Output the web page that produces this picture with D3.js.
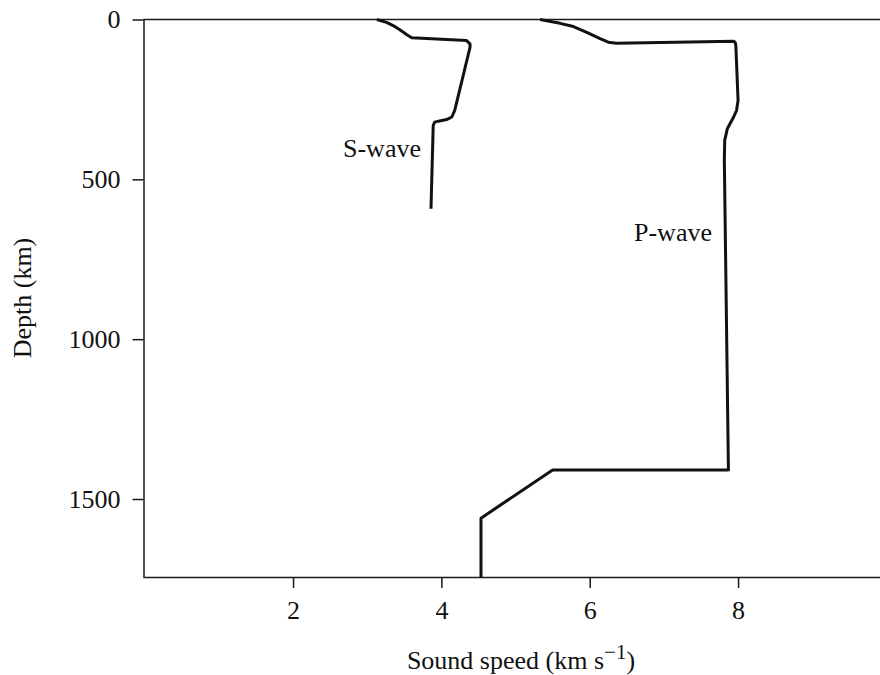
<!DOCTYPE html>
<html>
<head>
<meta charset="utf-8">
<script src="https://cdn.jsdelivr.net/npm/d3@7"></script>
<style>
  body { margin: 0; background: #fff; }
  svg { display: block; }
  .axis path, .axis line { stroke: #1a1a1a; stroke-width: 1.5px; }
  .wave { fill: none; stroke: #111; stroke-width: 3px; stroke-linejoin: round; }
</style>
</head>
<body>
<script>
// S-wave profile: speed (km/s) vs depth (km)
var sSpeed = [3.13, 3.26, 3.35, 3.44, 3.53, 3.60, 3.67, 4.34, 4.386, 4.386, 4.18, 4.14, 4.07, 3.96, 3.91, 3.89, 3.86];
var sDepth = [0, 9, 19, 32, 47, 57, 58, 66, 76, 87, 284, 305, 313, 318, 321, 331, 592];

// P-wave profile
var pSpeed = [5.33, 5.60, 5.78, 5.96, 6.14, 6.25, 6.36, 7.94, 7.96, 7.97, 8.00, 7.98, 7.94, 7.855, 7.82, 7.815, 7.87, 5.50, 4.534, 4.534];
var pDepth = [0, 12, 22, 40, 60, 71, 74, 68, 71, 81, 253, 284, 305, 342, 378, 441, 1409, 1409, 1560, 1744];

var xTicks = [2, 4, 6, 8];
var yTicks = [0, 500, 1000, 1500];

// curve labels: [text, speed, depth, anchor]
var labels = [
    ["S-wave", 3.725, 431, "end"],
    ["P-wave", 6.597, 694, "start"]
];

var FONT = "Liberation Serif, Tinos, DejaVu Serif, serif";
var FS = 26;

//---------setup plot-----------------------//
var W = 880, H = 675;

var x = d3.scaleLinear()
    .domain([0, 10])
    .range([144.7, 886.4]);

var y = d3.scaleLinear()
    .domain([0, 1744])
    .range([19.5, 577]);

var svg = d3.select("body").append("svg")
    .attr("width", W)
    .attr("height", H)
    .attr("font-family", FONT)
    .attr("font-size", FS);

// y-axis
svg.append("g")
    .attr("class", "axis")
    .attr("transform", "translate(143.5,0)")
    .call(d3.axisLeft(y).tickValues(yTicks).tickFormat(d3.format("d"))
        .tickSize(11).tickPadding(12).tickSizeOuter(0));

// x-axis
svg.append("g")
    .attr("class", "axis")
    .attr("transform", "translate(0," + y(1744) + ")")
    .call(d3.axisBottom(x).tickValues(xTicks).tickSize(11).tickPadding(13).tickSizeOuter(0));

// d3 axis sets its own font, put ours back
svg.selectAll(".axis")
    .attr("font-family", FONT)
    .attr("font-size", FS)
    .selectAll("text").attr("fill", "#111");

// top frame line
svg.append("line")
    .attr("x1", 143.5).attr("x2", W)
    .attr("y1", y(0)).attr("y2", y(0))
    .style("stroke", "#1a1a1a")
    .style("stroke-width", 1.5);

svg.selectAll(".axis .domain").attr("stroke-linecap", "square");

//-------------data----------//
var line = d3.line()
    .x(function(d) { return x(d[0]); })
    .y(function(d) { return y(d[1]); });

svg.append("path")
    .attr("class", "wave")
    .attr("d", line(d3.zip(sSpeed, sDepth)));

svg.append("path")
    .attr("class", "wave")
    .attr("d", line(d3.zip(pSpeed, pDepth)));

labels.forEach(function(l) {
    svg.append("text")
        .attr("x", x(l[1]))
        .attr("y", y(l[2]))
        .attr("text-anchor", l[3])
        .attr("fill", "#111")
        .text(l[0]);
});

// axis titles
svg.append("text")
    .attr("transform", "translate(31,298) rotate(-90)")
    .attr("text-anchor", "middle")
    .attr("fill", "#111")
    .text("Depth (km)");

var xt = svg.append("text")
    .attr("x", 521)
    .attr("y", 669)
    .attr("text-anchor", "middle")
    .attr("fill", "#111");
xt.append("tspan").text("Sound speed (km s");
xt.append("tspan").attr("dy", -10).attr("font-size", 21).text("\u22121");
xt.append("tspan").attr("dy", 10).text(")");
</script>
</body>
</html>
